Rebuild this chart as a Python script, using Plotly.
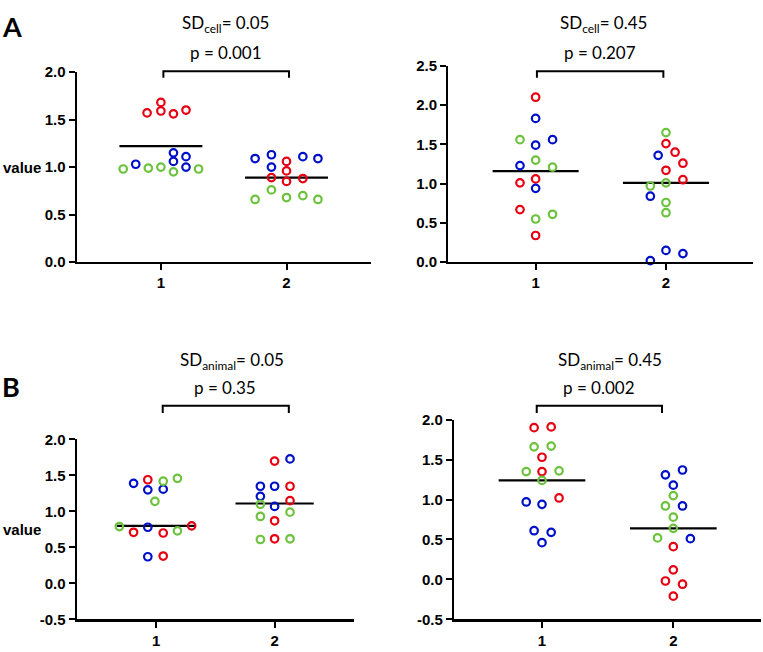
import plotly.graph_objects as go

W, H = 763, 652

COLORS = {"red": "#e60012", "blue": "#0010c8", "green": "#6cc23c"}
CATEGORIES = [1, 2]
X_TICK_LABELS = ["1", "2"]
Y_TICKS_A1 = [0.0, 0.5, 1.0, 1.5, 2.0]
Y_TICKS_A2 = [0.0, 0.5, 1.0, 1.5, 2.0, 2.5]
Y_TICKS_B = [-0.5, 0.0, 0.5, 1.0, 1.5, 2.0]
Y_LABELS_A1 = ["0.0", "0.5", "1.0", "1.5", "2.0"]
Y_LABELS_A2 = ["0.0", "0.5", "1.0", "1.5", "2.0", "2.5"]
Y_LABELS_B = ["-0.5", "0.0", "0.5", "1.0", "1.5", "2.0"]

# ---------------- Panel A, left (SDcell = 0.05) ----------------
a1_red_g1_jit = [-0.11, 0.0, 0.0, 0.10, 0.20]
a1_red_g1_val = [1.57, 1.59, 1.68, 1.56, 1.60]
a1_blue_g1_jit = [-0.20, 0.10, 0.10, 0.20, 0.20]
a1_blue_g1_val = [1.03, 1.15, 1.06, 1.11, 1.00]
a1_green_g1_jit = [-0.30, -0.10, 0.0, 0.10, 0.30]
a1_green_g1_val = [0.98, 0.99, 1.00, 0.95, 0.98]
a1_red_g2_jit = [0.0, 0.0, -0.12, 0.0, 0.13]
a1_red_g2_val = [1.06, 0.96, 0.89, 0.85, 0.88]
a1_blue_g2_jit = [-0.25, -0.12, -0.12, 0.13, 0.25]
a1_blue_g2_val = [1.09, 1.13, 1.00, 1.11, 1.09]
a1_green_g2_jit = [-0.25, -0.12, 0.0, 0.13, 0.25]
a1_green_g2_val = [0.66, 0.76, 0.68, 0.70, 0.66]
a1_means = [1.22, 0.89]

# ---------------- Panel A, right (SDcell = 0.45) ----------------
a2_red_g1_jit = [0.0, -0.12, 0.0, -0.12, 0.0]
a2_red_g1_val = [2.10, 1.01, 1.06, 0.67, 0.34]
a2_blue_g1_jit = [0.0, 0.0, 0.13, -0.12, 0.0]
a2_blue_g1_val = [1.83, 1.49, 1.56, 1.23, 0.94]
a2_green_g1_jit = [-0.12, 0.0, 0.13, 0.0, 0.13]
a2_green_g1_val = [1.56, 1.30, 1.21, 0.55, 0.61]
a2_red_g2_jit = [0.0, 0.07, 0.13, 0.0, 0.13]
a2_red_g2_val = [1.51, 1.40, 1.26, 1.17, 1.05]
a2_blue_g2_jit = [-0.06, -0.12, 0.0, 0.13, -0.12]
a2_blue_g2_val = [1.36, 0.84, 0.15, 0.11, 0.02]
a2_green_g2_jit = [0.0, -0.12, 0.0, 0.0, 0.0]
a2_green_g2_val = [1.65, 0.97, 1.01, 0.76, 0.63]
a2_means = [1.16, 1.01]

# ---------------- Panel B, left (SDanimal = 0.05) ----------------
b1_red_g1_jit = [-0.07, -0.19, 0.06, 0.30, 0.06]
b1_red_g1_val = [1.44, 0.71, 0.70, 0.80, 0.38]
b1_blue_g1_jit = [-0.19, -0.07, 0.06, -0.07, -0.07]
b1_blue_g1_val = [1.39, 1.30, 1.31, 0.78, 0.37]
b1_green_g1_jit = [0.06, 0.18, -0.01, -0.31, 0.18]
b1_green_g1_val = [1.42, 1.46, 1.14, 0.79, 0.73]
b1_red_g2_jit = [0.0, 0.13, 0.13, 0.0, 0.0]
b1_red_g2_val = [1.70, 1.35, 1.15, 0.87, 0.62]
b1_blue_g2_jit = [0.13, -0.12, 0.0, -0.12, 0.0]
b1_blue_g2_val = [1.73, 1.35, 1.35, 1.21, 1.07]
b1_green_g2_jit = [-0.12, -0.12, 0.13, -0.12, 0.13]
b1_green_g2_val = [1.10, 0.93, 0.99, 0.61, 0.62]
b1_means = [0.80, 1.11]

# ---------------- Panel B, right (SDanimal = 0.45) ----------------
b2_red_g1_jit = [-0.06, 0.07, 0.0, 0.0, 0.13]
b2_red_g1_val = [1.90, 1.91, 1.53, 1.35, 1.02]
b2_blue_g1_jit = [-0.12, 0.0, -0.06, 0.07, 0.0]
b2_blue_g1_val = [0.97, 0.94, 0.61, 0.59, 0.46]
b2_green_g1_jit = [-0.06, 0.07, -0.12, 0.13, 0.0]
b2_green_g1_val = [1.66, 1.67, 1.35, 1.36, 1.24]
b2_red_g2_jit = [0.0, 0.0, -0.06, 0.07, 0.0]
b2_red_g2_val = [0.41, 0.12, -0.02, -0.06, -0.21]
b2_blue_g2_jit = [-0.06, 0.07, 0.0, 0.07, 0.13]
b2_blue_g2_val = [1.31, 1.37, 1.18, 0.92, 0.51]
b2_green_g2_jit = [0.0, -0.06, 0.0, 0.0, -0.12]
b2_green_g2_val = [1.05, 0.92, 0.78, 0.64, 0.52]
b2_means = [1.24, 0.64]

titles = ["SD<sub>cell</sub>= 0.05", "SD<sub>cell</sub>= 0.45",
          "SD<sub>animal</sub>= 0.05", "SD<sub>animal</sub>= 0.45"]
p_texts = ["p = 0.001", "p = 0.207", "p = 0.35", "p = 0.002"]

panels = [
    dict(data={
        "red": [(a1_red_g1_jit, a1_red_g1_val), (a1_red_g2_jit, a1_red_g2_val)],
        "blue": [(a1_blue_g1_jit, a1_blue_g1_val), (a1_blue_g2_jit, a1_blue_g2_val)],
        "green": [(a1_green_g1_jit, a1_green_g1_val), (a1_green_g2_jit, a1_green_g2_val)],
    }, means=a1_means, yr=[0, 2.0], yt=(Y_TICKS_A1, Y_LABELS_A1),
        px=(76.7, 370.7), py=(64.7, 260.0), br=(1.02, 2.02), br_y=(64.0, 70.7),
        title_xy=(225, 15), p_xy=(226, 45)),
    dict(data={
        "red": [(a2_red_g1_jit, a2_red_g1_val), (a2_red_g2_jit, a2_red_g2_val)],
        "blue": [(a2_blue_g1_jit, a2_blue_g1_val), (a2_blue_g2_jit, a2_blue_g2_val)],
        "green": [(a2_green_g1_jit, a2_green_g1_val), (a2_green_g2_jit, a2_green_g2_val)],
    }, means=a2_means, yr=[0, 2.5], yt=(Y_TICKS_A2, Y_LABELS_A2),
        px=(448.3, 753.3), py=(58.3, 260.0), br=(1.01, 1.98), br_y=(64.0, 70.7),
        title_xy=(603, 15), p_xy=(600, 45)),
    dict(data={
        "red": [(b1_red_g1_jit, b1_red_g1_val), (b1_red_g2_jit, b1_red_g2_val)],
        "blue": [(b1_blue_g1_jit, b1_blue_g1_val), (b1_blue_g2_jit, b1_blue_g2_val)],
        "green": [(b1_green_g1_jit, b1_green_g1_val), (b1_green_g2_jit, b1_green_g2_val)],
    }, means=b1_means, yr=[-0.5, 2.0], yt=(Y_TICKS_B, Y_LABELS_B),
        px=(76.7, 354.0), py=(442.0, 626.7), br=(1.056, 2.12), br_y=(407.3, 414.7),
        title_xy=(232, 361), p_xy=(225, 389)),
    dict(data={
        "red": [(b2_red_g1_jit, b2_red_g1_val), (b2_red_g2_jit, b2_red_g2_val)],
        "blue": [(b2_blue_g1_jit, b2_blue_g1_val), (b2_blue_g2_jit, b2_blue_g2_val)],
        "green": [(b2_green_g1_jit, b2_green_g1_val), (b2_green_g2_jit, b2_green_g2_val)],
    }, means=b2_means, yr=[-0.5, 2.0], yt=(Y_TICKS_B, Y_LABELS_B),
        px=(454.0, 761.3), py=(421.7, 626.7), br=(0.96, 1.914), br_y=(407.3, 414.7),
        title_xy=(610, 361), p_xy=(599, 389)),
]

X_RANGE = [0.33, 2.67]
MEAN_HALF = 0.33

fig = go.Figure()
layout = dict(
    width=W, height=H, margin=dict(l=0, r=0, t=0, b=0),
    paper_bgcolor="white", plot_bgcolor="white", showlegend=False,
)
shapes = []
annotations = []
tickfont = dict(family="Liberation Sans, Arial", size=15, color="black", weight="bold")
textfont = dict(family="Lato", size=17, color="black")

for i, p in enumerate(panels):
    n = i + 1
    xa = "x" if n == 1 else f"x{n}"
    ya = "y" if n == 1 else f"y{n}"
    xkey = "xaxis" if n == 1 else f"xaxis{n}"
    ykey = "yaxis" if n == 1 else f"yaxis{n}"
    x0, x1 = p["px"]
    ytop, ybot = p["py"]
    layout[xkey] = dict(
        domain=[x0 / W, x1 / W], range=X_RANGE, anchor=ya,
        tickmode="array", tickvals=CATEGORIES, ticktext=X_TICK_LABELS,
        showline=True, linecolor="black", linewidth=2.2,
        ticks="outside", ticklen=6, tickwidth=2, tickcolor="black",
        showgrid=False, zeroline=False, tickfont=tickfont, fixedrange=True,
    )
    layout[ykey] = dict(
        domain=[1 - ybot / H, 1 - ytop / H], range=p["yr"], anchor=xa,
        tickmode="array", tickvals=p["yt"][0], ticktext=p["yt"][1],
        showline=True, linecolor="black", linewidth=2.2,
        ticks="outside", ticklen=6, tickwidth=2, tickcolor="black",
        showgrid=False, zeroline=False, tickfont=tickfont, fixedrange=True,
    )
    # mean lines
    for c, m in zip(CATEGORIES, p["means"]):
        fig.add_trace(go.Scatter(
            x=[c - MEAN_HALF, c + MEAN_HALF], y=[m, m], mode="lines",
            line=dict(color="black", width=2.2), xaxis=xa, yaxis=ya,
            hoverinfo="skip"))
    # points
    for color, groups in p["data"].items():
        for c, (jit, val) in zip(CATEGORIES, groups):
            fig.add_trace(go.Scatter(
                x=[c + j for j in jit], y=val, mode="markers",
                marker=dict(symbol="circle-open", size=7.5, color=COLORS[color],
                            line=dict(width=2.2, color=COLORS[color])),
                xaxis=xa, yaxis=ya, cliponaxis=False))
    # bracket
    bx0, bx1 = p["br"]
    yb, yt = p["br_y"]
    shapes.append(dict(
        type="path", xref=xa, yref="paper",
        path=f"M {bx0},{1 - yt / H} L {bx0},{1 - yb / H} L {bx1},{1 - yb / H} L {bx1},{1 - yt / H}",
        line=dict(color="black", width=2)))
    tx, ty = p["title_xy"]
    annotations.append(dict(text=titles[i], x=tx / W, y=1 - ty / H, xref="paper", yref="paper",
                            showarrow=False, font=textfont, xanchor="center", yanchor="middle"))
    qx, qy = p["p_xy"]
    annotations.append(dict(text=p_texts[i], x=qx / W, y=1 - qy / H, xref="paper", yref="paper",
                            showarrow=False, font=textfont, xanchor="center", yanchor="middle"))
    if n in (1, 3):
        annotations.append(dict(text="value", x=1 / W, y=1 - ((ytop + ybot) / 2) / H,
                                xref="paper", yref="paper", showarrow=False,
                                font=tickfont, xanchor="left", yanchor="middle"))

panel_letters = [("A", 12, 18), ("B", 11, 388)]
for letter, lx, ly in panel_letters:
    annotations.append(dict(text=letter, x=lx / W, y=1 - ly / H, xref="paper", yref="paper",
                            showarrow=False, xanchor="center", yanchor="middle",
                            font=dict(family="Lato", size=27, color="black", weight="bold")))

layout["shapes"] = shapes
layout["annotations"] = annotations
fig.update_layout(**layout)
fig.write_html(
    "out.html",
    config={"displayModeBar": False, "staticPlot": True},
    post_script="document.body.style.margin='0';document.body.style.padding='0';"
                "document.body.style.overflow='hidden';",
)
